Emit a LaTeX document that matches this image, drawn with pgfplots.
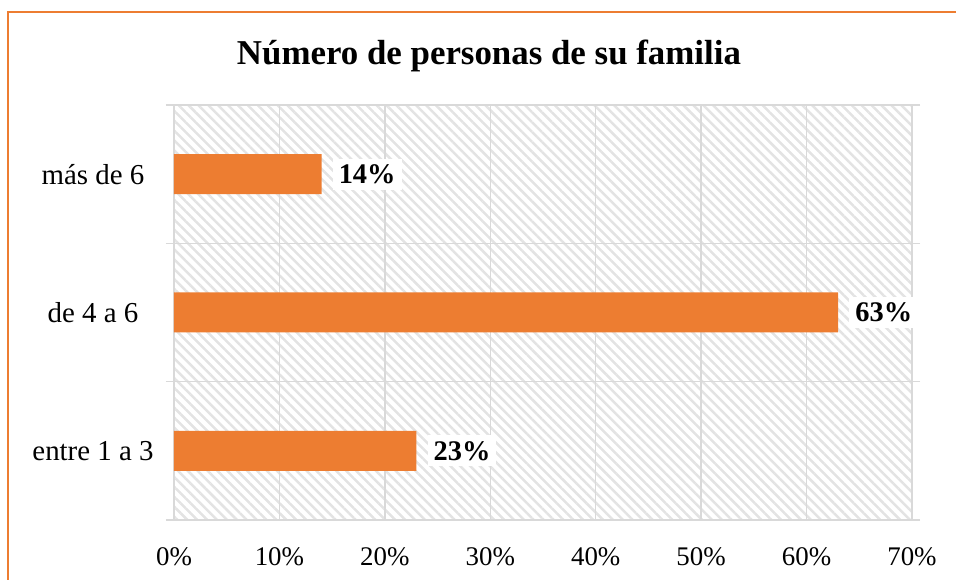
\documentclass[border=0pt]{standalone}
\usepackage{pgfplots}
\pgfplotsset{compat=1.18}
\usepackage{fontspec}
\setmainfont{Liberation Serif}
\usetikzlibrary{patterns.meta}
\definecolor{barorange}{HTML}{ED7D31}
\definecolor{gridgray}{HTML}{D9D9D9}
\definecolor{hatchgray}{HTML}{E3E3E3}
\begin{document}
\begin{tikzpicture}
\begin{axis}[
  at={(0,0)}, anchor=south west,
  scale only axis,
  width=738bp, height=415bp,
  xbar, bar width=40bp,
  xmin=0, xmax=70,
  ymin=0.5, ymax=3.5,
  /pgf/number format/assume math mode=true,
  xtick={0,10,20,30,40,50,60,70},
  xticklabels={0\%,10\%,20\%,30\%,40\%,50\%,60\%,70\%},
  xtick style={draw=none},
  xticklabel style={anchor=base, yshift=-37bp, font=\fontsize{27}{32}\selectfont},
  ytick={0.5,1.5,2.5,3.5},
  yticklabels={},
  tick align=outside,
  major tick length=8bp,
  ytick style={draw=gridgray, line width=1.5bp},
  extra y ticks={1,2,3},
  extra y tick labels={entre 1 a 3, de 4 a 6, más de 6},
  extra y tick style={major tick length=0pt, ymajorgrids=false, ytick style={draw=none},
    yticklabel style={anchor=center, xshift=-81bp, font=\fontsize{29}{34}\selectfont}},
  xmajorgrids, ymajorgrids,
  major grid style={draw=gridgray, line width=1.5bp},
  axis line style={draw=gridgray, line width=1.5bp},
  axis background/.style={postaction={pattern={Lines[angle=-45,distance=7bp,line width=2.5bp]}, pattern color=hatchgray}},
  clip=false,
  nodes near coords={\pgfmathprintnumber{\pgfplotspointmeta}\%},
  point meta=x,
  every node near coord/.append style={anchor=west, xshift=11bp, fill=white, inner sep=6bp,
    font=\fontsize{28.5}{34}\selectfont\bfseries, text=black},
]
\addplot[fill=barorange, draw=none] coordinates {(23,1) (63,2) (14,3)};
\end{axis}
\node[anchor=base, font=\fontsize{35}{42}\selectfont\bfseries] at (315bp,455bp) {Número de personas de su familia};
\draw[barorange, line width=2bp] (-166bp,-70bp) -- (-166bp,508bp) -- (800bp,508bp);
\pgfresetboundingbox
\useasboundingbox (-174bp,-60bp) rectangle (782bp,520bp);
\end{tikzpicture}
\end{document}
